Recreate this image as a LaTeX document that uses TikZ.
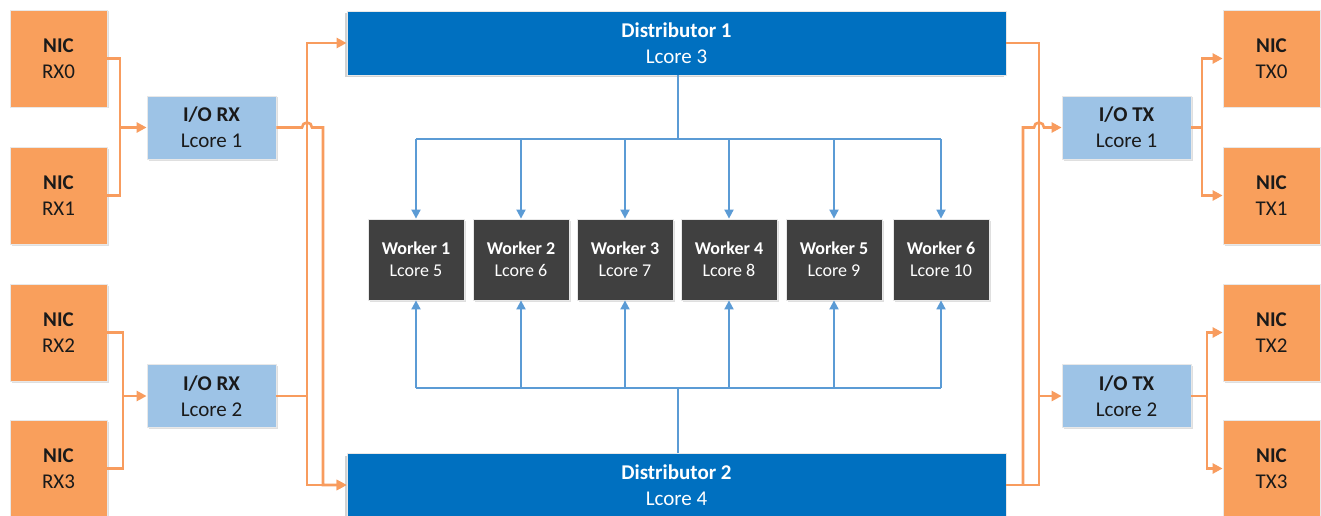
\documentclass[tikz,border=0pt]{standalone}
\usepackage{fontspec}
\setmainfont{Carlito}
\usetikzlibrary{arrows.meta,shadows}

\definecolor{nicorange}{HTML}{F99F5C}
\definecolor{wireorange}{HTML}{F89C5E}
\definecolor{iofill}{HTML}{9DC3E6}
\definecolor{distblue}{HTML}{0070C0}
\definecolor{wireblue}{HTML}{5B9BD5}
\definecolor{workgray}{HTML}{404040}
\definecolor{textdark}{HTML}{1A1A1A}

\tikzset{
  boxbase/.style={align=center, line width=0.8pt, draw=white!82!gray,
    drop shadow={opacity=0.25, shadow xshift=1.5pt, shadow yshift=-1.5pt}},
  nicbox/.style={boxbase, fill=nicorange, text=textdark,
    minimum width=97pt, minimum height=97pt, font=\fontsize{21}{26}\selectfont},
  iobox/.style={boxbase, fill=iofill, text=textdark,
    minimum width=129pt, minimum height=63pt, font=\fontsize{21}{26}\selectfont},
  distbox/.style={align=center, line width=0.8pt, draw=white!82!gray,
    drop shadow={opacity=0.35, shadow xshift=-2.5pt, shadow yshift=-2.5pt},
    fill=distblue, text=white,
    minimum width=659pt, minimum height=64pt, font=\fontsize{21}{26}\selectfont},
  workbox/.style={boxbase, fill=workgray, text=white,
    minimum width=96pt, minimum height=81pt, font=\fontsize{18}{22}\selectfont},
  owire/.style={draw=wireorange, line width=2.6pt,
    -{Triangle[length=10pt,width=10pt]}},
  oline/.style={draw=wireorange, line width=2.6pt},
  bwire/.style={draw=wireblue, line width=1.8pt,
    -{Triangle[length=9pt,width=9pt]}},
  bline/.style={draw=wireblue, line width=1.8pt}
}

\begin{document}
\begin{tikzpicture}[x=1pt,y=-1pt]
    \useasboundingbox (0,0) rectangle (1321,516);
    \fill[white] (0,0) rectangle (1321,516);

    % NIC ports
    \node[nicbox] (rx0) at (58.5,58.5)  {\textbf{NIC}\\RX0};
    \node[nicbox] (rx1) at (58.5,195.5) {\textbf{NIC}\\RX1};
    \node[nicbox] (rx2) at (58.5,332.5) {\textbf{NIC}\\RX2};
    \node[nicbox] (rx3) at (58.5,468.5) {\textbf{NIC}\\RX3};
    \node[nicbox] (tx0) at (1271.5,58.5)  {\textbf{NIC}\\TX0};
    \node[nicbox] (tx1) at (1271.5,195.5) {\textbf{NIC}\\TX1};
    \node[nicbox] (tx2) at (1271.5,332.5) {\textbf{NIC}\\TX2};
    \node[nicbox] (tx3) at (1271.5,468.5) {\textbf{NIC}\\TX3};

    % I/O cores
    \node[iobox] (iorx1) at (211.5,127.5)  {\textbf{I/O RX}\\Lcore 1};
    \node[iobox] (iorx2) at (211.5,396)    {\textbf{I/O RX}\\Lcore 2};
    \node[iobox] (iotx1) at (1126.5,127.5) {\textbf{I/O TX}\\Lcore 1};
    \node[iobox] (iotx2) at (1126.5,396)   {\textbf{I/O TX}\\Lcore 2};

    % distributors
    \node[distbox] (dist1) at (676.5,43)  {\textbf{Distributor 1}\\Lcore 3};
    \node[distbox] (dist2) at (676.5,485) {\textbf{Distributor 2}\\Lcore 4};

    % workers
    \node[workbox] (w1) at (416,259.5) {\textbf{Worker 1}\\Lcore 5};
    \node[workbox] (w2) at (521,259.5) {\textbf{Worker 2}\\Lcore 6};
    \node[workbox] (w3) at (625,259.5) {\textbf{Worker 3}\\Lcore 7};
    \node[workbox] (w4) at (729,259.5) {\textbf{Worker 4}\\Lcore 8};
    \node[workbox] (w5) at (834,259.5) {\textbf{Worker 5}\\Lcore 9};
    \node[workbox] (w6) at (941,259.5) {\textbf{Worker 6}\\Lcore 10};

    % distributor <-> worker buses
    \coordinate (topbus) at (678,139);
    \coordinate (botbus) at (678,388);
    \draw[bline] (dist1.south -| topbus) -- (topbus);
    \draw[bline] (dist2.north -| botbus) -- (botbus);
    \draw[bline] (w1.north |- topbus) -- (w6.north |- topbus);
    \draw[bline] (w1.south |- botbus) -- (w6.south |- botbus);
    \foreach \i in {1,...,6} {
        \draw[bwire] (w\i.north |- topbus) -- (w\i.north);
        \draw[bwire] (w\i.south |- botbus) -- (w\i.south);
    }

    % NIC RX -> I/O RX
    \coordinate (lj1) at (120,127.5);
    \coordinate (lj2) at (123,396);
    \draw[oline] (rx0.east) -| (lj1) |- (rx1.east);
    \draw[owire] (lj1) -- (iorx1.west);
    \draw[oline] (rx2.east) -| (lj2) |- (rx3.east);
    \draw[owire] (lj2) -- (iorx2.west);

    % I/O RX -> distributors
    \coordinate (lbus) at (307,396);
    \coordinate (lbusb) at (323,396);
    \draw[owire] (iorx2.east) -- (lbus) |- (dist1.west);
    \draw[owire] (lbus) |- (dist2.west);
    \draw[owire] (iorx1.east) -- ([xshift=-5pt]lbus |- iorx1.east)
        arc[start angle=180,end angle=0,radius=5pt]
        -- (lbusb |- iorx1.east) |- (dist2.west);

    % distributors -> I/O TX
    \coordinate (rbus) at (1039,396);
    \coordinate (rbusb) at (1023,396);
    \draw[owire] (dist1.east) -| (rbus) -- (iotx2.west);
    \draw[oline] (dist2.east) -| (rbus);
    \draw[owire] (dist2.east -| rbusb) -- (rbusb |- iotx1.west)
        -- ([xshift=-5pt]rbus |- iotx1.west)
        arc[start angle=180,end angle=0,radius=5pt] -- (iotx1.west);

    % I/O TX -> NIC TX
    \coordinate (rj1) at (1202,127.5);
    \coordinate (rj2) at (1207,396);
    \draw[oline] (iotx1.east) -- (rj1);
    \draw[owire] (rj1) |- (tx0.west);
    \draw[owire] (rj1) |- (tx1.west);
    \draw[oline] (iotx2.east) -- (rj2);
    \draw[owire] (rj2) |- (tx2.west);
    \draw[owire] (rj2) |- (tx3.west);
\end{tikzpicture}
\end{document}
